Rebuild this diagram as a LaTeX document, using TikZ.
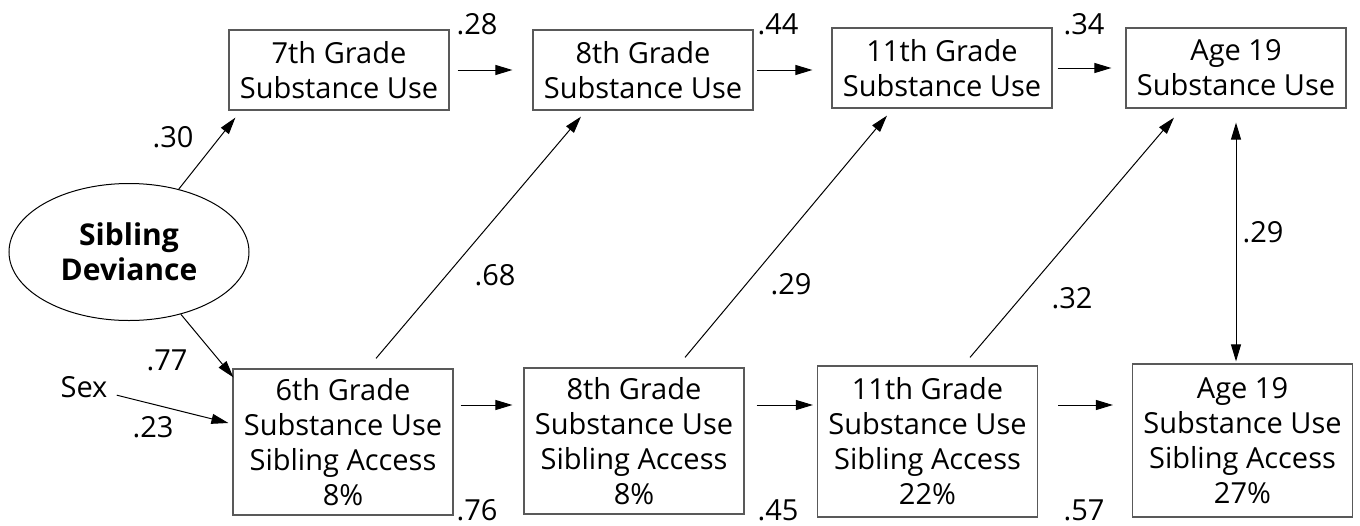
\documentclass[tikz,border=0pt]{standalone}
\usepackage{fontspec}
\setmainfont{Open Sans}
\usetikzlibrary{arrows.meta,shapes.geometric}

\begin{document}
\begin{tikzpicture}[x=1pt,y=-1pt,
    every node/.style={font=\fontsize{29}{35}\selectfont},
    var/.style={draw=black!65,line width=1.2pt,align=center,minimum width=220pt,inner sep=0pt},
    latent/.style={ellipse,draw,line width=1pt,align=center,minimum width=240pt,minimum height=137pt,inner sep=0pt,font=\bfseries\fontsize{30}{35}\selectfont},
    coef/.style={inner sep=0pt},
    arr/.style={-{Triangle[length=17pt,width=10pt]},line width=1pt},
    arrboth/.style={{Triangle[length=17pt,width=10pt]}-{Triangle[length=17pt,width=10pt]},line width=1pt}]
    \useasboundingbox (0,0) rectangle (1360,525);

    \node[latent] (sd) at (129,252) {Sibling\\Deviance};
    \node (sex) at (84,387) {Sex};

    % substance use
    \node[var,minimum height=80pt] (u7)  at (339,70)  {7th Grade\\Substance Use};
    \node[var,minimum height=80pt] (u8)  at (643,70)  {8th Grade\\Substance Use};
    \node[var,minimum height=80pt] (u11) at (942,68)  {11th Grade\\Substance Use};
    \node[var,minimum height=80pt] (u19) at (1236,68) {Age 19\\Substance Use};

    % sibling access
    \node[var,minimum height=146pt] (a6)  at (343,442)    {6th Grade\\Substance Use\\Sibling Access\\8\%};
    \node[var,minimum height=146pt] (a8)  at (634,441)    {8th Grade\\Substance Use\\Sibling Access\\8\%};
    \node[var,minimum height=151pt] (a11) at (927.5,441.5) {11th Grade\\Substance Use\\Sibling Access\\22\%};
    \node[var,minimum height=153pt] (a19) at (1242.5,440.5) {Age 19\\Substance Use\\Sibling Access\\27\%};

    \path[arr]
        (sd)
            edge ([shift={(7,7)}]u7.south west)
            edge ([shift={(1,9)}]a6.north west)
        (sex)
            edge[shorten <=6pt] ([shift={(-4,-19)}]a6.west)
        (u7)
            edge[shorten <=8pt, shorten >=20pt] (u8)
        (u8)
            edge[shorten <=3pt, shorten >=19pt] (u8 -| u11.west)
        (u11)
            edge[shorten <=5pt, shorten >=14pt] (u11 -| u19.west)
        ([yshift=37pt]a6.east)
            edge[shorten <=7pt, shorten >=11pt] ([yshift=37pt]a6.east -| a8.west)
        ([yshift=37pt]a6.east -| a8.east)
            edge[shorten <=12pt, shorten >=4pt] ([yshift=37pt]a6.east -| a11.west)
        ([yshift=37pt]a6.east -| a11.east)
            edge[shorten <=20pt, shorten >=19pt] ([yshift=37pt]a6.east -| a19.west)
        ([shift={(33,-10)}]a6.north)
            edge ([shift={(-62,6)}]u8.south)
        ([shift={(51,-10)}]a8.north)
            edge ([shift={(-55,7)}]u11.south)
        ([shift={(42.5,-8)}]a11.north)
            edge ([shift={(-62,9)}]u19.south);
    \draw[arrboth,shorten <=14pt,shorten >=2pt] (u19.south) -- (u19.south |- a19.north);

    % coefficients
    \node[coef] (c30) at (173,137) {.30};
    \node[coef] (c77) at (167,360) {.77};
    \node[coef] (c23) at (153,427) {.23};
    \node[coef] (c28) at (477,24)  {.28};
    \node[coef] (c44) at (778,24)  {.44};
    \node[coef] (c34) at (1084,24) {.34};
    \node[coef] (c68) at (495,275) {.68};
    \node[coef] (c29a) at (791,284) {.29};
    \node[coef] (c32) at (1072,298) {.32};
    \node[coef] (c29b) at (1263,232) {.29};
    \node[coef] (c76) at (477,510) {.76};
    \node[coef] (c45) at (778,510) {.45};
    \node[coef] (c57) at (1084,510) {.57};
\end{tikzpicture}
\end{document}
